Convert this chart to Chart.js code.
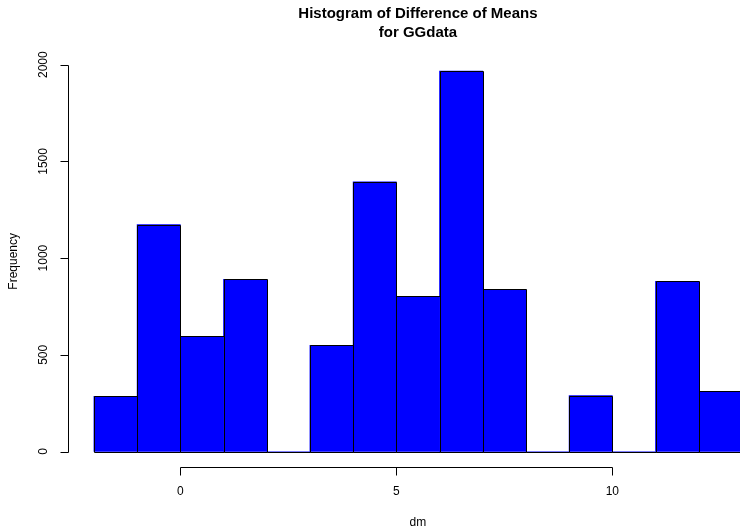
<!DOCTYPE html>
<html>
<head>
<meta charset="utf-8">
<script src="https://cdn.jsdelivr.net/npm/chart.js@4"></script>
<style>
  body { margin: 0; background: #fff; }
  #wrap { width: 740px; height: 530px; }
</style>
</head>
<body>
<div id="wrap"><canvas id="histChart" width="740" height="530"></canvas></div>
<script>
// histogram of dm, bins of width 1 from -2 to 13
const binEdges = [-2, -1, 0, 1, 2, 3, 4, 5, 6, 7, 8, 9, 10, 11, 12, 13];
const counts = [285, 1173, 596, 890, 0, 549, 1395, 802, 1967, 839, 0, 289, 0, 880, 311];
const xTicks = [0, 5, 10];
const yTicks = [0, 500, 1000, 1500, 2000];
const titleLines = ['Histogram of Difference of Means', 'for GGdata'];
const xLabel = 'dm';
const yLabel = 'Frequency';

const mids = counts.map((c, i) => (binEdges[i] + binEdges[i + 1]) / 2);

const FONT = '"Liberation Sans", Arial, Helvetica, sans-serif';

function crisp(v) {
    return Math.round(v) + 0.5;
}

// R style base graphics: bar outlines and axes, from the chart scales
const rAxes = {
    id: 'rAxes',
    afterDatasetsDraw(chart) {
        const ctx = chart.ctx;
        const xs = chart.scales.x;
        const ys = chart.scales.y;
        const area = chart.chartArea;
        ctx.save();
        ctx.strokeStyle = '#000';
        ctx.lineWidth = 1;

        // outline every bin, like rect() in R (zero bins give a flat line)
        const y0 = crisp(ys.getPixelForValue(0));
        ctx.beginPath();
        counts.forEach((c, i) => {
            const l = crisp(xs.getPixelForValue(binEdges[i]));
            const r = crisp(xs.getPixelForValue(binEdges[i + 1]));
            const t = crisp(ys.getPixelForValue(c));
            ctx.moveTo(l, y0);
            ctx.lineTo(l, t);
            ctx.lineTo(r, t);
            ctx.lineTo(r, y0);
            ctx.lineTo(l, y0);
        });
        ctx.stroke();

        // y axis
        const ax = crisp(area.left);
        ctx.beginPath();
        ctx.moveTo(ax, crisp(ys.getPixelForValue(yTicks[0])));
        ctx.lineTo(ax, crisp(ys.getPixelForValue(yTicks[yTicks.length - 1])));
        yTicks.forEach(t => {
            const py = crisp(ys.getPixelForValue(t));
            ctx.moveTo(ax, py);
            ctx.lineTo(ax - 8, py);
        });
        ctx.stroke();

        ctx.fillStyle = '#000';
        ctx.font = '12px ' + FONT;
        ctx.textAlign = 'center';
        ctx.textBaseline = 'middle';
        yTicks.forEach(t => {
            ctx.save();
            ctx.translate(area.left - 24, ys.getPixelForValue(t));
            ctx.rotate(-Math.PI / 2);
            ctx.fillText(String(t), 0, 0);
            ctx.restore();
        });

        // x axis
        const ay = crisp(area.bottom);
        ctx.beginPath();
        ctx.moveTo(crisp(xs.getPixelForValue(xTicks[0])), ay);
        ctx.lineTo(crisp(xs.getPixelForValue(xTicks[xTicks.length - 1])), ay);
        xTicks.forEach(t => {
            const px = crisp(xs.getPixelForValue(t));
            ctx.moveTo(px, ay);
            ctx.lineTo(px, ay + 8);
        });
        ctx.stroke();
        xTicks.forEach(t => {
            ctx.fillText(String(t), xs.getPixelForValue(t), area.bottom + 25);
        });

        // axis titles
        const midX = (xs.getPixelForValue(-2.6) + xs.getPixelForValue(13.6)) / 2;
        ctx.fillText(xLabel, midX, area.bottom + 56);
        ctx.save();
        ctx.translate(area.left - 54, (area.top + area.bottom) / 2);
        ctx.rotate(-Math.PI / 2);
        ctx.fillText(yLabel, 0, 0);
        ctx.restore();

        // main title
        ctx.font = 'bold 15px ' + FONT;
        ctx.fillText(titleLines[0], midX, 14);
        ctx.fillText(titleLines[1], midX, 33);
        ctx.restore();
    }
};

const ctxHist = document.getElementById('histChart').getContext('2d');

const histChart = new Chart(ctxHist, {
    type: 'bar',
    data: {
        datasets: [{
            label: 'dm',
            data: mids.map((m, i) => ({ x: m, y: counts[i] })),
            backgroundColor: '#0000ff',
            borderWidth: 0,
            barPercentage: 1,
            categoryPercentage: 1
        }]
    },
    options: {
        responsive: false,
        devicePixelRatio: 1,
        animation: false,
        layout: {
            padding: { left: 68, right: 0, top: 55.6, bottom: 63 }
        },
        plugins: {
            legend: { display: false },
            tooltip: { enabled: false },
            title: { display: false }
        },
        scales: {
            x: {
                type: 'linear',
                offset: false,
                min: -2.6,
                max: 12.956,
                display: false
            },
            y: {
                min: -80,
                max: 2047,
                display: false
            }
        }
    },
    plugins: [rAxes]
});
</script>
</body>
</html>
